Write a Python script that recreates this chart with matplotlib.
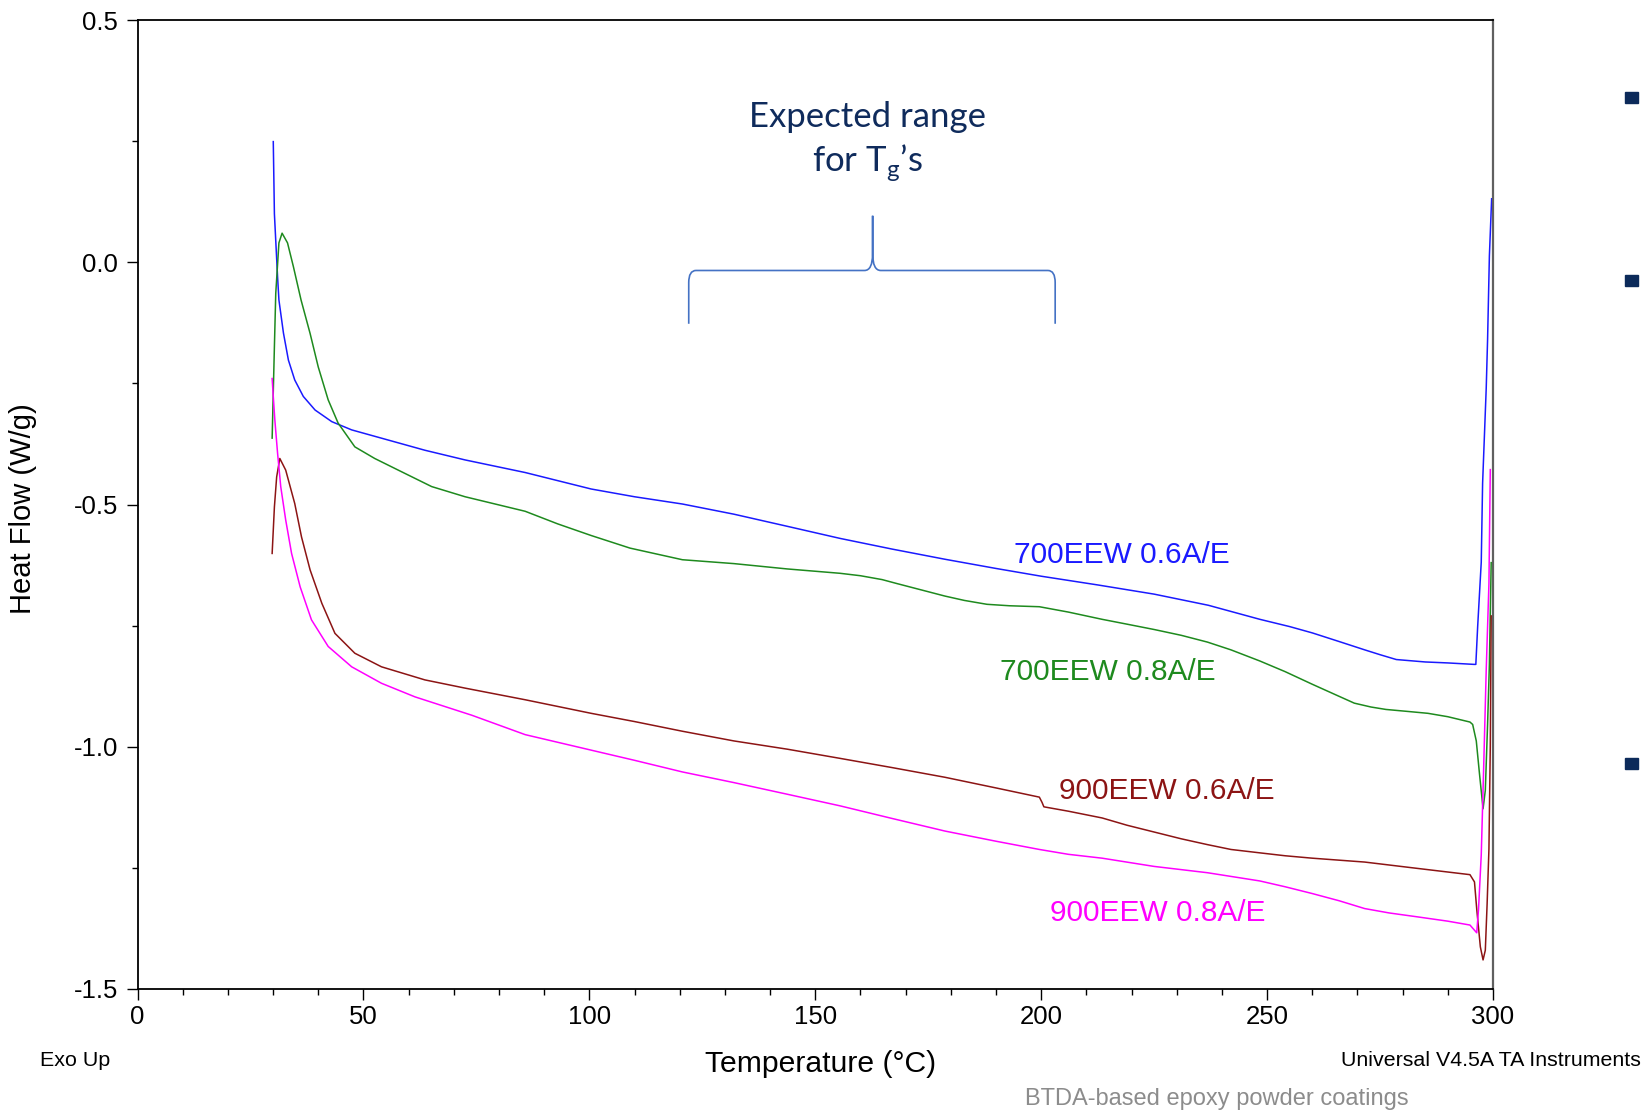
import matplotlib
matplotlib.use('Agg')
import matplotlib.pyplot as plt
from matplotlib.path import Path
from matplotlib.patches import PathPatch, Rectangle
from matplotlib.ticker import MultipleLocator

plt.rcParams['font.family'] = ['Liberation Sans', 'DejaVu Sans']
plt.rcParams['axes.unicode_minus'] = False

# DSC traces: temperature (°C) and heat flow (W/g)
blue_T = [30.05, 30.3, 31.0, 31.3, 32.3, 33.4, 34.8, 36.7, 39.3, 43.0,
          47.4, 55.5, 63.6, 72.5, 85.8, 100.4, 110, 120.6, 132, 143.8,
          155.5, 167, 178.7, 190, 200, 212.5, 225, 237, 248.4, 255,
          260, 266, 271.6, 275, 278.6, 285, 290, 295.8, 296.2, 296.6,
          297.4, 297.7, 298.5, 298.8, 299.2, 299.7]
blue_H = [0.249, 0.10, -0.03, -0.078, -0.146, -0.202, -0.243, -0.277, -0.305, -0.329,
          -0.346, -0.367, -0.388, -0.408, -0.434, -0.468, -0.484, -0.499, -0.52, -0.545,
          -0.57, -0.592, -0.613, -0.632, -0.648, -0.666, -0.685, -0.708, -0.737, -0.752,
          -0.765, -0.783, -0.80, -0.81, -0.82, -0.825, -0.827, -0.83, -0.83, -0.753,
          -0.619, -0.456, -0.26, -0.16, 0.013, 0.131]

green_T = [29.8, 30.3, 30.6, 31.3, 32.0, 33.2, 34.5, 36.2, 38.2, 40.0,
           42.2, 44.4, 48.1, 52.5, 57.7, 65.1, 72.5, 85.8, 93, 100.4,
           109, 120.6, 132, 143.8, 155.5, 160, 164.8, 168, 171.7, 175,
           178.7, 183, 188, 193, 199.6, 206, 213.5, 219, 225, 231,
           236.8, 242, 248.4, 254, 260, 265, 269.3, 273, 276.3, 281,
           285.6, 290, 294.9, 295.5, 296.3, 297.0, 297.8, 298.3, 298.8, 299.2,
           299.6]
green_H = [-0.363, -0.174, -0.064, 0.04, 0.06, 0.04, -0.009, -0.078, -0.147, -0.216,
           -0.284, -0.332, -0.381, -0.405, -0.429, -0.463, -0.484, -0.514, -0.54, -0.564,
           -0.59, -0.614, -0.622, -0.633, -0.642, -0.647, -0.655, -0.663, -0.672, -0.68,
           -0.689, -0.698, -0.706, -0.709, -0.711, -0.722, -0.737, -0.747, -0.758, -0.77,
           -0.784, -0.80, -0.823, -0.845, -0.871, -0.892, -0.91, -0.918, -0.923, -0.927,
           -0.931, -0.938, -0.949, -0.954, -0.988, -1.055, -1.128, -1.09, -0.954, -0.83,
           -0.62]

brown_T = [29.8, 30.3, 30.8, 31.5, 32.8, 34.8, 36.3, 38.2, 40.8, 43.7,
           48.1, 54.0, 63.6, 72.5, 85.8, 100.4, 110, 120.6, 132, 143.8,
           155.5, 167, 178.7, 190, 199.6, 200.2, 200.6, 206, 213.5, 219,
           225, 231, 236.8, 242, 248.4, 254, 260, 271.6, 283.2, 294.9,
           295.9, 296.4, 297.2, 297.8, 298.3, 298.7, 299.1, 299.4, 299.6]
brown_H = [-0.601, -0.505, -0.443, -0.405, -0.429, -0.498, -0.567, -0.635, -0.704, -0.766,
           -0.807, -0.835, -0.862, -0.879, -0.903, -0.931, -0.948, -0.968, -0.988, -1.005,
           -1.024, -1.043, -1.063, -1.085, -1.104, -1.115, -1.124, -1.133, -1.147, -1.162,
           -1.176, -1.19, -1.202, -1.212, -1.219, -1.225, -1.23, -1.238, -1.251, -1.264,
           -1.279, -1.335, -1.413, -1.44, -1.42, -1.324, -1.211, -0.999, -0.73]

magenta_T = [29.8, 30.0, 30.4, 31.0, 31.7, 32.8, 34.1, 36.0, 38.5, 42.2,
             47.4, 54.0, 61.4, 74, 85.8, 100.4, 110, 120.6, 132, 143.8,
             155.5, 167, 178.7, 190, 199.6, 206, 213.5, 225, 236.8, 248.4,
             254, 260, 266, 271.6, 277, 283.2, 290, 294.9, 296.4, 296.8,
             297.4, 297.9, 298.5, 299.1, 299.4]
magenta_H = [-0.24, -0.27, -0.326, -0.394, -0.463, -0.532, -0.601, -0.67, -0.738, -0.793,
             -0.835, -0.869, -0.897, -0.935, -0.975, -1.007, -1.028, -1.052, -1.074, -1.098,
             -1.122, -1.148, -1.174, -1.195, -1.212, -1.222, -1.23, -1.247, -1.26, -1.277,
             -1.289, -1.303, -1.318, -1.334, -1.343, -1.351, -1.36, -1.368, -1.384, -1.335,
             -1.223, -1.055, -0.842, -0.663, -0.428]

labels = ['700EEW 0.6A/E', '700EEW 0.8A/E', '900EEW 0.6A/E', '900EEW 0.8A/E']
label_T = [217.8, 214.7, 227.8, 225.9]
label_H = [-0.605, -0.845, -1.092, -1.343]
colors = ['#1a1aff', '#1e8a1e', '#8c1414', '#ff00ff']

x_ticks = [0, 50, 100, 150, 200, 250, 300]
y_ticks = [-1.5, -1.0, -0.5, 0.0, 0.5]

# Tg bracket: left end, centre, right end (°C) and heights (W/g)
brace_x = (122.0, 162.7, 203.1)
brace_y = (-0.127, -0.017, 0.096)

W, H = 1645, 1110
fig = plt.figure(figsize=(W / 100, H / 100), dpi=100)
ax = fig.add_axes([137.5 / W, 1 - 989 / H, (1493 - 137.5) / W, (989 - 20) / H])

series = [(blue_T, blue_H), (green_T, green_H), (brown_T, brown_H), (magenta_T, magenta_H)]
for (t, h), c in zip(series, colors):
    ax.plot(t, h, color=c, lw=1.1)

for txt, x, y, c in zip(labels, label_T, label_H, colors):
    ax.text(x, y, txt, color=c, fontsize=21.5, ha='center', va='center')

ax.set_xlim(0, 300)
ax.set_ylim(-1.5, 0.5)
ax.set_xticks(x_ticks)
ax.set_xticklabels([str(v) for v in x_ticks])
ax.set_yticks(y_ticks)
ax.set_yticklabels(['%.1f' % v for v in y_ticks])
ax.xaxis.set_minor_locator(MultipleLocator(10))
ax.yaxis.set_minor_locator(MultipleLocator(0.25))
ax.tick_params(which='major', direction='out', length=8, width=1, labelsize=18.5)
ax.tick_params(which='minor', direction='out', length=4.5, width=1)
ax.tick_params(axis='x', pad=3.5)
ax.tick_params(axis='y', pad=6)
for s in ['left', 'bottom', 'top']:
    ax.spines[s].set_linewidth(1.3)
ax.spines['right'].set_linewidth(1.6)
ax.spines['right'].set_color('#606060')

# curly bracket for the expected Tg range
x0, xc, x1 = brace_x
yb, yl, yt = brace_y
rx, ry, cx, cy = 1.6, 0.025, 1.8, 0.035
verts = [(x0, yb), (x0, yl - ry), (x0, yl), (x0 + rx, yl),
         (xc - cx, yl), (xc, yl), (xc, yl + cy), (xc, yt),
         (xc, yl + cy), (xc, yl), (xc + cx, yl),
         (x1 - rx, yl), (x1, yl), (x1, yl - ry), (x1, yb)]
codes = [Path.MOVETO, Path.LINETO, Path.CURVE3, Path.CURVE3,
         Path.LINETO, Path.CURVE3, Path.CURVE3, Path.LINETO,
         Path.LINETO, Path.CURVE3, Path.CURVE3,
         Path.LINETO, Path.CURVE3, Path.CURVE3, Path.LINETO]
ax.add_patch(PathPatch(Path(verts, codes), fill=False, edgecolor='#4472c4', lw=1.2))

plt.rcParams['mathtext.fontset'] = 'custom'
plt.rcParams['mathtext.rm'] = 'Lato'
navy = '#0f2b5c'
ax.text(161.6, 0.300, 'Expected range', family='Lato', fontsize=25, color=navy,
        ha='center', va='center')
ax.text(161.6, 0.205, r'for T$_\mathrm{g}$’s', family='Lato', fontsize=25, color=navy,
        ha='center', va='center')

fig.text(23 / W, 1 - 509 / H, 'Heat Flow (W/g)', rotation=90, fontsize=21,
         ha='center', va='center')
fig.text(821 / W, 1 - 1064 / H, 'Temperature (°C)', fontsize=21.7, ha='center', va='center')
fig.text(40 / W, 1 - 1060 / H, 'Exo Up', fontsize=15.4, ha='left', va='center')
fig.text(1641 / W, 1 - 1060 / H, 'Universal V4.5A TA Instruments', fontsize=15.4,
         ha='right', va='center')
fig.text(1217 / W, 1 - 1099 / H, 'BTDA-based epoxy powder coatings', fontsize=17,
         color='#8c8c8c', ha='center', va='center')

# slide bullets peeking in at the right edge
for cy_px in [97, 281, 763]:
    fig.add_artist(Rectangle(((1631 - 6.5) / W, 1 - (cy_px + 5.5) / H), 13 / W, 11 / H,
                             transform=fig.transFigure, color='#0c2a5a'))

fig.savefig('out.png', dpi=100)
